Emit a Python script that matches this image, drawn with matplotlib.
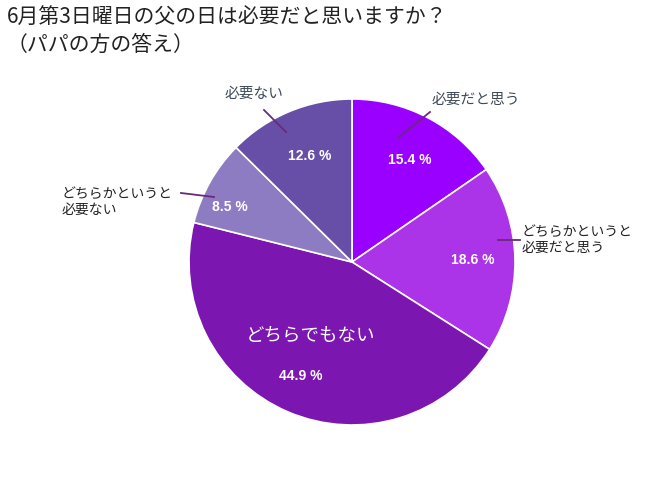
import numpy as np
import matplotlib.pyplot as plt

plt.rcParams['font.family'] = ['Noto Sans CJK JP', 'DejaVu Sans']

# data
labels = ["必要だと思う", "どちらかというと\n必要だと思う", "どちらでもない",
          "どちらかというと\n必要ない", "必要ない"]
values = [15.4, 18.6, 44.9, 8.5, 12.6]
colors = ["#9900ff", "#ab33e8", "#7b17b0", "#8e7cc3", "#674ea7"]

W, H = 650, 494
fig = plt.figure(figsize=(6.5, 4.94), dpi=100)
ax = fig.add_axes([0, 0, 1, 1])

cx, cy, R = 352, H - 262, 163
wedges, _ = ax.pie(values, colors=colors, startangle=90, counterclock=False,
                   center=(cx, cy), radius=R, frame=True,
                   wedgeprops=dict(edgecolor="white", linewidth=1.2))
ax.set_xlim(0, W)
ax.set_ylim(0, H)
ax.set_aspect("equal")
ax.axis("off")

# percentage labels (radial fraction, angle nudge)
pct_r = [0.72, 0.74, 0.77, 0.82, 0.70]
pct_da = [-2, 0, -1, 5, -1]
for w, v, r, da in zip(wedges, values, pct_r, pct_da):
    ang = np.deg2rad((w.theta1 + w.theta2) / 2 + da)
    ax.text(cx + r * R * np.cos(ang), cy + r * R * np.sin(ang), f"{v} %",
            color="white", fontsize=10, fontweight="bold", ha="center", va="center",
            family=["Liberation Sans", "DejaVu Sans"])

# inside label of the big slice
w = wedges[2]
ang = np.deg2rad((w.theta1 + w.theta2) / 2)
ax.text(cx + 0.5 * R * np.cos(ang) - 9, cy + 0.5 * R * np.sin(ang) + 1, labels[2],
        color="white", fontsize=13.3, ha="center", va="center")

# outside labels with leader lines
lc = "#6a2a78"
# 必要だと思う
ax.plot([398, 430], [H - 138, H - 112], color=lc, lw=1.3)
ax.text(432, H - 100, labels[0], fontsize=10.6, color="#3e4a57", ha="left", va="center")
# どちらかというと 必要だと思う
ax.plot([498, 520], [H - 240, H - 240], color=lc, lw=1.3)
ax.text(522, H - 240, labels[1], fontsize=10, color="#222222", ha="left", va="center",
        linespacing=1.2)
# どちらかというと 必要ない
ax.plot([181, 214], [H - 193, H - 197], color=lc, lw=1.3)
ax.text(62, H - 202, labels[3], fontsize=10, color="#222222", ha="left", va="center",
        linespacing=1.2)
# 必要ない
ax.plot([264, 286], [H - 110, H - 132], color=lc, lw=1.3)
ax.text(225, H - 94, labels[4], fontsize=10.6, color="#3e4a57", ha="left", va="center")

# title
fig.text(7 / W, 1 - 7 / H, "6月第3日曜日の父の日は必要だと思いますか？\n（パパの方の答え）",
         fontsize=15, color="#222222", ha="left", va="top", linespacing=1.3)

fig.savefig("out.png", dpi=100, facecolor="white")
